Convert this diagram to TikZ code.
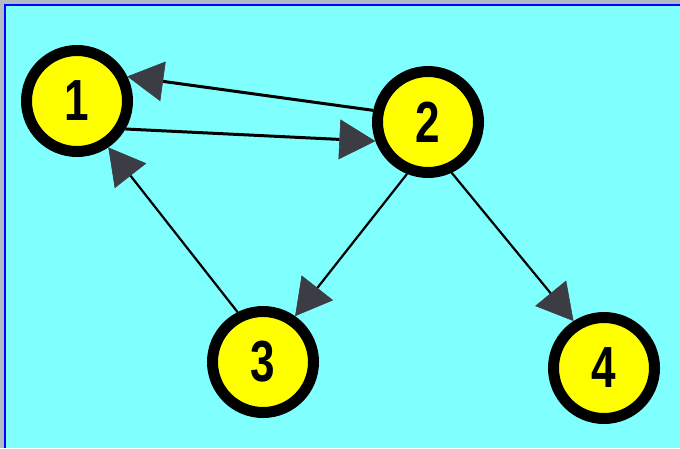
\documentclass[tikz,border=0pt]{standalone}
\usepackage{graphicx}
\usepackage{fontspec}
\setmainfont{Liberation Sans}
\usetikzlibrary{arrows.meta}
\definecolor{bg}{HTML}{80FFFF}
\definecolor{framegray}{HTML}{B2BBC3}
\definecolor{blueline}{HTML}{0000FF}
\definecolor{tipgray}{HTML}{3C3C44}
\definecolor{nodeyellow}{HTML}{FFFF00}
\newcommand{\dg}[1]{\scalebox{0.76}[1]{#1}}
\begin{document}
\begin{tikzpicture}[x=1pt,y=-1pt,
  vertex/.style={circle,draw=black,fill=nodeyellow,line width=11pt,
    minimum size=101pt,inner sep=0pt,
    font=\bfseries\fontsize{58}{58}\selectfont},
  edge/.style={line width=3pt,
    -{Triangle[length=36pt,width=40pt,line width=0.6pt,fill=tipgray,color=tipgray]}},
  diag/.style={edge,line width=2.2pt}]
\useasboundingbox (0,0) rectangle (680,448);
\fill[framegray] (0,0) rectangle (680,448);
\fill[blueline] (4,4) rectangle (680,448);
\fill[bg] (6,6) rectangle (680,448);
\node[vertex] (n1) at (77,101) {\dg{1}};
\node[vertex] (n2) at (428,122) {\dg{2}};
\node[vertex] (n3) at (263,362) {\dg{3}};
\node[vertex] (n4) at (604,368) {\dg{4}};
\draw[edge] (n1.-30) -- (n2.-160);
\draw[edge] (n2.168) -- (n1.26);
\draw[diag] (n2.-112) -- (n3.55);
\draw[diag] (n2.-65) -- (n4.123);
\draw[diag] (n3.117) -- (n1.-56);
\end{tikzpicture}
\end{document}
